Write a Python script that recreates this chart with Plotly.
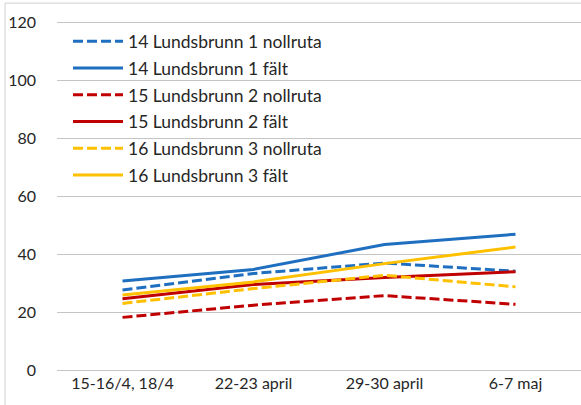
import plotly.graph_objects as go

categories = ["15-16/4, 18/4", "22-23 april", "29-30 april", "6-7 maj"]
names = [
    "14 Lundsbrunn 1 nollruta",
    "14 Lundsbrunn 1 fält",
    "15 Lundsbrunn 2 nollruta",
    "15 Lundsbrunn 2 fält",
    "16 Lundsbrunn 3 nollruta",
    "16 Lundsbrunn 3 fält",
]
s14_noll = [27.8, 33.5, 37.1, 34.3]
s14_falt = [30.9, 34.9, 43.5, 47.0]
s15_noll = [18.4, 22.6, 25.9, 22.9]
s15_falt = [24.8, 29.7, 32.1, 34.1]
s16_noll = [23.2, 28.3, 32.9, 28.9]
s16_falt = [26.1, 30.6, 36.9, 42.6]
yticks = [0, 20, 40, 60, 80, 100, 120]

series = [s14_noll, s14_falt, s15_noll, s15_falt, s16_noll, s16_falt]
colors = ["#1F6FC0", "#1F6FC0", "#C00000", "#C00000", "#FFC000", "#FFC000"]
dashes = ["10px,4px", "solid", "10px,4px", "solid", "10px,4px", "solid"]

fig = go.Figure()
for i, (nm, vals) in enumerate(zip(names, series)):
    fig.add_trace(go.Scatter(
        x=categories, y=vals, name=nm, mode="lines",
        line=dict(color=colors[i], width=3, dash=dashes[i]),
        legendgroup=f"g{i}",
    ))

fig.update_layout(
    width=581, height=405,
    margin=dict(l=57, r=0, t=21, b=33, pad=0),
    paper_bgcolor="white", plot_bgcolor="white",
    font=dict(family="Lato, Open Sans, sans-serif", size=16, color="#262626"),
    showlegend=True,
    legend=dict(
        x=0.021, y=0.993, xanchor="left", yanchor="top",
        bgcolor="rgba(255,255,255,0)",
        font=dict(size=17.5, color="#262626"),
        tracegroupgap=1,
        itemwidth=50,
    ),
    xaxis=dict(
        type="category", range=[-0.5, 3.5],
        showgrid=False, zeroline=False, showline=False,
        ticks="", tickfont=dict(size=16, color="#262626"),
        automargin=False,
    ),
    yaxis=dict(
        range=[-0.4, 120.4], tickvals=yticks,
        showgrid=True, gridcolor="#C4C4C4", gridwidth=1,
        zeroline=False, showline=False, ticks="",
        ticklabelstandoff=20, automargin=False,
        tickfont=dict(size=16, color="#262626"),
    ),
    shapes=[dict(
        type="rect", xref="paper", yref="paper",
        x0=-0.0992, x1=1.2, y0=-0.3, y1=1.051,
        line=dict(color="#D0D0D0", width=1),
    )],
)

fig.write_html(
    "out.html",
    config={"displayModeBar": False},
    post_script="document.body.style.margin='0px';document.body.style.overflow='hidden';",
)
